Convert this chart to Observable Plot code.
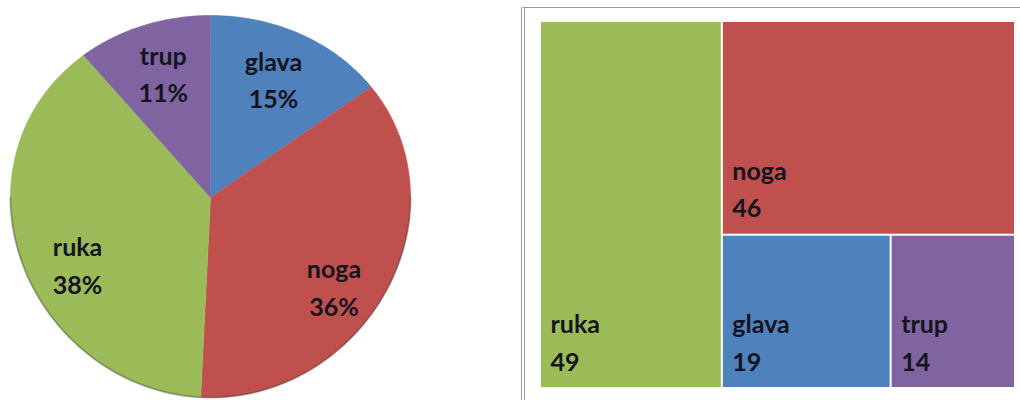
<!DOCTYPE html>
<html>
<head>
<meta charset="utf-8">
<script src="https://cdn.jsdelivr.net/npm/d3@7"></script>
<script src="https://cdn.jsdelivr.net/npm/@observablehq/plot@0.6"></script>
<style>
  html, body { margin: 0; padding: 0; background: #fff; }
  #wrap { position: relative; width: 1020px; height: 400px; overflow: hidden; }
  #pie { position: absolute; left: 0; top: 0; }
  #frame { position: absolute; left: 521px; top: 7px; width: 499px; height: 393px; box-sizing: border-box;
           border-top: 1px solid #9a9a9a; border-left: 4px double #9a9a9a; }
  #tree { position: absolute; left: 420px; top: 0; }
</style>
</head>
<body>
<div id="wrap">
  <div id="pie"></div>
  <div id="frame"></div>
  <div id="tree"></div>
</div>
<script>
// ---- data ----
const categories = ["glava", "noga", "ruka", "trup"];
const values = [19, 46, 49, 14];
const colors = ["#4F81BD", "#C0504D", "#9BBB59", "#8064A2"];

const rows = categories.map((name, i) => ({name, value: values[i]}));
const total = d3.sum(values);
const labelFont = "Lato, 'Open Sans', sans-serif";
const textColor = "#141420";

// ---- pie (slightly tilted) ----
const tilt = 0.047;
function pt(a, r) {
  const c = Math.cos(a) * r;
  return {u: Math.sin(a) * r, v: c * (1 - tilt * c)};
}
const arcs = d3.pie().sort(null).value(d => d.value)(rows);
const piePts = [];
const labelPts = [];
for (const a of arcs) {
  const name = a.data.name;
  piePts.push({name, u: 0, v: 0});
  const n = Math.ceil((a.endAngle - a.startAngle) * 180 / Math.PI) + 1;
  for (let k = 0; k <= n; k++) {
    const t = a.startAngle + (a.endAngle - a.startAngle) * k / n;
    piePts.push({name, ...pt(t, 1)});
  }
  const m = (a.startAngle + a.endAngle) / 2;
  labelPts.push({name, lower: Math.cos(m) < 0,
    text: name + "\n" + Math.round(a.data.value / total * 100) + "%", ...pt(m, 0.7)});
}
const rim = [];
for (let k = 90; k <= 270; k += 2) rim.push({...pt(k * Math.PI / 180, 1)});

const pie = Plot.plot({
  width: 420, height: 400,
  margin: 0,
  x: {domain: [-1, 1], range: [10, 410], axis: null},
  y: {domain: [-1, 1], range: [388, 6], axis: null},
  color: {domain: categories, range: colors},
  style: {background: "transparent", fontFamily: labelFont, overflow: "visible"},
  marks: [
    Plot.line(piePts, {x: "u", y: "v", z: "name", fill: "name", stroke: "name", strokeWidth: 0.6, curve: "linear"}),
    Plot.line(rim, {x: "u", y: "v", stroke: "#3a3a3a", strokeOpacity: 0.35, strokeWidth: 2}),
    Plot.text(labelPts.filter(d => !d.lower), {x: "u", y: "v", text: "text", lineAnchor: "middle",
      dy: -4, lineHeight: 1.5, fontSize: 25, fontWeight: "bold", fill: textColor}),
    Plot.text(labelPts.filter(d => d.lower), {x: "u", y: "v", text: "text", lineAnchor: "top",
      dy: -10, lineHeight: 1.5, fontSize: 25, fontWeight: "bold", fill: textColor})
  ]
});
document.getElementById("pie").appendChild(pie);

// ---- treemap (slice-and-dice of value-sorted categories) ----
const sorted = rows.slice().sort((a, b) => b.value - a.value);
function nest(list) {
  if (list.length === 1) return {name: list[0].name, value: list[0].value};
  return {children: [{name: list[0].name, value: list[0].value}, nest(list.slice(1))]};
}
const root = d3.hierarchy(nest(sorted)).sum(d => d.children ? 0 : d.value);
d3.treemap().tile(d3.treemapSliceDice).size([1, 1]).round(false)(root);
const leaves = root.leaves().map(l => ({name: l.data.name, value: l.data.value,
  x0: l.x0, x1: l.x1, y0: l.y0, y1: l.y1}));

const tree = Plot.plot({
  width: 600, height: 400,
  margin: 0,
  x: {domain: [0, 1], range: [120, 595], axis: null},
  y: {domain: [0, 1], range: [21, 388], axis: null},
  color: {domain: categories, range: colors},
  style: {background: "transparent", fontFamily: labelFont, overflow: "visible"},
  marks: [
    Plot.rect(leaves, {x1: "x0", x2: "x1", y1: "y0", y2: "y1", fill: "name", inset: 1}),
    Plot.text(leaves, {x: "x0", y: "y1", text: d => d.name + "\n" + d.value,
      textAnchor: "start", lineAnchor: "bottom", dx: 10, dy: -18, lineHeight: 1.5,
      fontSize: 25, fontWeight: "bold", fill: textColor})
  ]
});
document.getElementById("tree").appendChild(tree);
</script>
</body>
</html>
